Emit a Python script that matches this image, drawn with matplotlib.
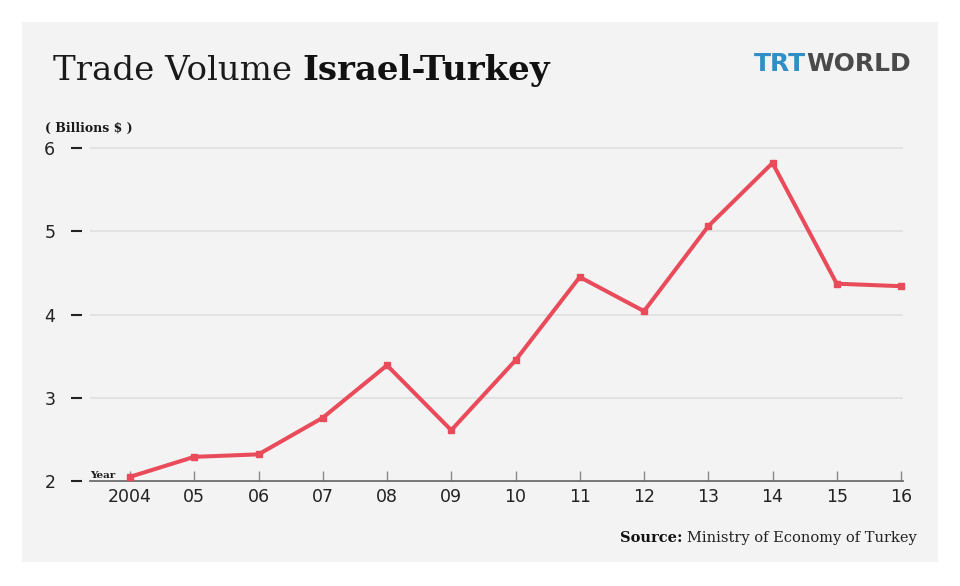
import matplotlib
matplotlib.use("Agg")
import matplotlib.pyplot as plt
from matplotlib.patches import Rectangle

years = [2004, 2005, 2006, 2007, 2008, 2009, 2010, 2011, 2012, 2013, 2014, 2015, 2016]
year_labels = ["2004", "05", "06", "07", "08", "09", "10", "11", "12", "13", "14", "15", "16"]
volume = [2.05, 2.29, 2.32, 2.76, 3.39, 2.61, 3.45, 4.45, 4.04, 5.06, 5.82, 4.37, 4.34]
y_ticks = [2, 3, 4, 5, 6]

W, H = 960, 586
fig = plt.figure(figsize=(W / 100, H / 100), dpi=100)
fig.patch.set_facecolor("white")

def fx(x):
    return x / W

def fy(y):
    return 1 - y / H

# gray panel
fig.patches.append(Rectangle((fx(22), fy(562)), fx(938) - fx(22), fy(22) - fy(562),
                             transform=fig.transFigure, facecolor="#f3f3f3",
                             edgecolor="none", zorder=-5))

ax_left, ax_right = 90, 903
ax_bottom, ax_top = 481, 131.35
ax = fig.add_axes([fx(ax_left), fy(ax_bottom), fx(ax_right) - fx(ax_left), (ax_bottom - ax_top) / H])
ax.set_facecolor("none")
ax.set_zorder(2)

ax.plot(years, volume, color="#e94b5b", lw=2.9, marker="s", markersize=5,
        solid_joinstyle="miter", zorder=3, clip_on=False)

x_left = 2004 - (130 - ax_left) / 64.25
x_right = 2016 + (ax_right - 901) / 64.25
ax.set_xlim(x_left, x_right)
ax.set_ylim(2, 6.2)

ax.set_yticks(y_ticks)
ax.set_yticklabels([str(t) for t in y_ticks])
ax.set_xticks(years)
ax.set_xticklabels(year_labels)

for v in y_ticks[1:]:
    ax.axhline(v, color="#dedede", lw=1.1, zorder=1)

for s in ["top", "right", "left"]:
    ax.spines[s].set_visible(False)
ax.spines["left"].set_position(("outward", 6))
ax.spines["bottom"].set_color("#6e6e6e")
ax.spines["bottom"].set_linewidth(1.3)

ax.tick_params(axis="y", direction="out", length=8, width=1.5, color="#222222",
               pad=11, labelsize=12.5, labelcolor="#222222")
ax.tick_params(axis="x", direction="in", length=7, width=1, color="#8a8a8a",
               pad=5, labelsize=12.5, labelcolor="#222222")
for lab in ax.get_xticklabels() + ax.get_yticklabels():
    lab.set_fontfamily("DejaVu Sans")

# Title
t1 = fig.text(fx(53), fy(80), "Trade Volume ", fontsize=24.5, family="DejaVu Serif",
              fontweight="light", color="#1a1a1a", va="baseline", ha="left")
fig.canvas.draw()
bb = t1.get_window_extent()
fig.text(bb.x1 / W, fy(80), "Israel-Turkey", fontsize=24.5, family="DejaVu Serif",
         fontweight="bold", color="#111111", va="baseline", ha="left")

# Logo
t2 = fig.text(fx(754), fy(71), "TRT", fontsize=18, family="DejaVu Sans", fontweight="bold",
              color="#2f8fc6", va="baseline", ha="left")
fig.canvas.draw()
bb2 = t2.get_window_extent()
fig.text(bb2.x1 / W, fy(71), "WORLD", fontsize=18, family="DejaVu Sans",
         fontweight="bold", color="#4a4a4a", va="baseline", ha="left")

# Units label
fig.text(fx(45), fy(132), "( Billions $ )", fontsize=9, family="DejaVu Serif",
         fontweight="bold", color="#1a1a1a", va="baseline", ha="left")

# Year label
fig.text(fx(90), fy(478), "Year", fontsize=7.5, family="DejaVu Serif",
         fontweight="bold", color="#1a1a1a", va="baseline", ha="left", zorder=5)

# Source
t4 = fig.text(fx(917), fy(542), "Ministry of Economy of Turkey", fontsize=10.5,
              family="DejaVu Serif", color="#222222", va="baseline", ha="right")
fig.canvas.draw()
bb4 = t4.get_window_extent()
fig.text(bb4.x0 / W, fy(542), "Source: ", fontsize=10.5, family="DejaVu Serif",
         fontweight="bold", color="#111111", va="baseline", ha="right")

fig.savefig("out.png", dpi=100, facecolor="white")
